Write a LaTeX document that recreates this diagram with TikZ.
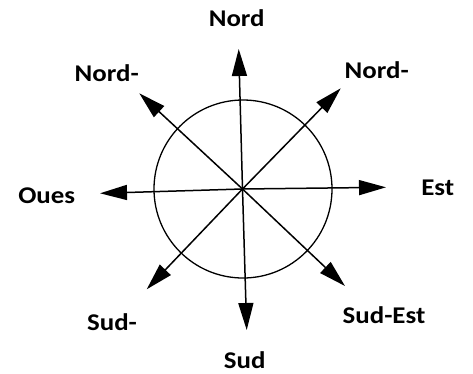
\documentclass[tikz,border=0pt]{standalone}
\usepackage{fontspec}
\setmainfont{Carlito}
\usetikzlibrary{arrows.meta}
\newcommand{\lbtxt}[1]{\scalebox{1.12}[1]{#1}}
\begin{document}
\begin{tikzpicture}[x=1pt,y=-1pt,
  arr/.style={line width=1.5pt,-{Triangle[length=27pt,width=15pt]}},
  lab/.style={font=\fontsize{24}{24}\selectfont\bfseries,anchor=base,inner sep=0pt},
  ring/.style={circle,draw,line width=1.3pt,minimum size=178pt,inner sep=0pt}]
\useasboundingbox[fill=white] (0,0) rectangle (473,373);
\coordinate (c) at (242.5,189);
\node[ring] (circ) at (243,189) {};
\coordinate (tN) at (238.7,49);
\coordinate (tS) at (246.7,330);
\coordinate (tE) at (386,187.3);
\coordinate (tW) at (100,193.3);
\coordinate (tNE) at (340.7,88.3);
\coordinate (tNW) at (139.3,93.3);
\coordinate (tSW) at (146.7,289.3);
\coordinate (tSE) at (345,286);
\foreach \t in {tN,tS,tE,tW,tNE,tNW,tSW,tSE} \draw[arr] (c) -- (\t);
\node[lab] (lN) at (236.7,26.7) {\lbtxt{Nord}};
\node[lab] (lNW) at (106.7,81.7) {\lbtxt{Nord-}};
\node[lab] (lNE) at (376.7,78.3) {\lbtxt{Nord-}};
\node[lab] (lW) at (46.7,203.5) {\lbtxt{Oues}};
\node[lab] (lE) at (437.8,195) {\lbtxt{Est}};
\node[lab] (lSE) at (384,323) {\lbtxt{Sud-Est}};
\node[lab] (lSW) at (112,330) {\lbtxt{Sud-}};
\node[lab] (lS) at (244.7,368) {\lbtxt{Sud}};
\end{tikzpicture}
\end{document}
